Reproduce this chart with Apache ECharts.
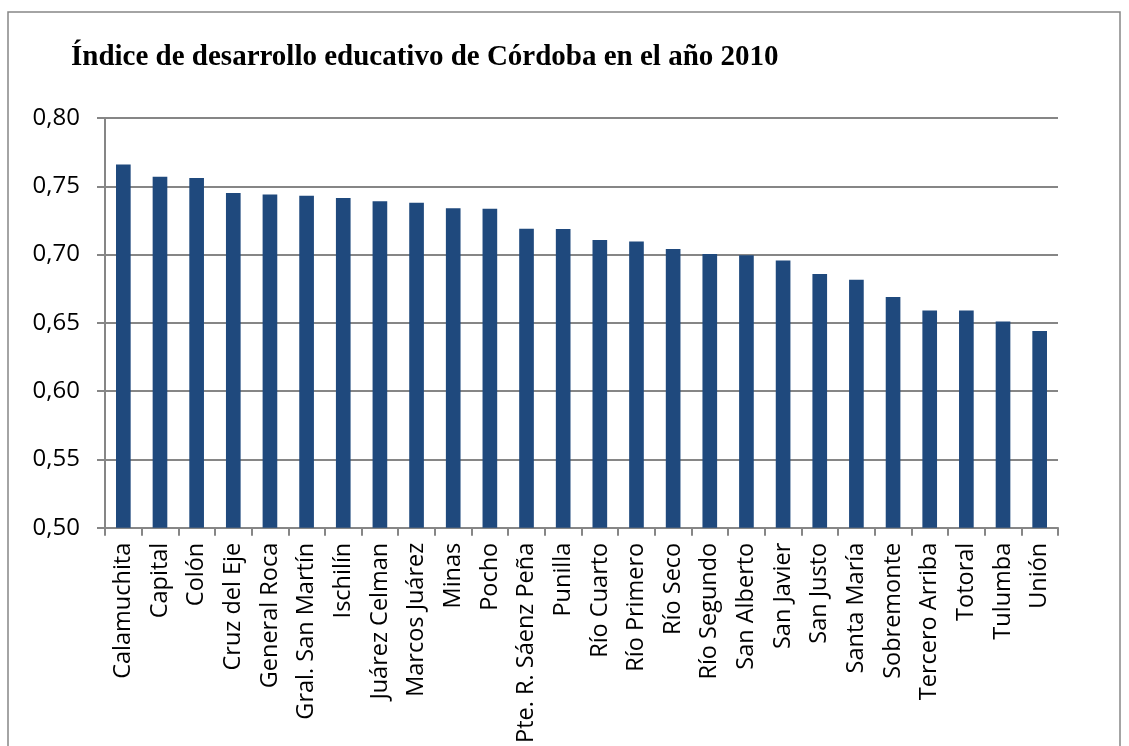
<!DOCTYPE html>
<html>
<head>
<meta charset="utf-8">
<script src="https://cdn.jsdelivr.net/npm/echarts@6/dist/echarts.min.js"></script>
<style>
html,body{margin:0;padding:0;background:#fff;}
#chart{width:1129px;height:746px;}
</style>
</head>
<body>
<div id="chart"></div>
<script>
const titleText = "Índice de desarrollo educativo de Córdoba en el año 2010";
const categories = ["Calamuchita","Capital","Colón","Cruz del Eje","General Roca","Gral. San Martín","Ischilín","Juárez Celman","Marcos Juárez","Minas","Pocho","Pte. R. Sáenz Peña","Punilla","Río Cuarto","Río Primero","Río Seco","Río Segundo","San Alberto","San Javier","San Justo","Santa María","Sobremonte","Tercero Arriba","Totoral","Tulumba","Unión"];
const values = [0.766,0.757,0.756,0.745,0.744,0.743,0.7415,0.739,0.738,0.734,0.7335,0.719,0.7187,0.7107,0.7095,0.704,0.7005,0.6995,0.6956,0.6857,0.6816,0.669,0.659,0.659,0.651,0.644];
const yMin = 0.5, yMax = 0.8, yStep = 0.05;

const chart = echarts.init(document.getElementById('chart'));
chart.setOption({
  animation: false,
  backgroundColor: '#fff',
  title: {
    text: titleText,
    left: 66, top: 38,
    textStyle: {fontFamily: 'Liberation Serif', fontWeight: 'bold', fontSize: 29, color: '#000'}
  },
  graphic: [{
    type: 'rect',
    shape: {x: 8, y: 12, width: 1112, height: 760},
    style: {fill: 'none', stroke: '#868686', lineWidth: 1.5},
    silent: true
  }],
  grid: {left: 105, right: 71, top: 118, bottom: 216},
  xAxis: {
    type: 'category',
    data: categories,
    axisLine: {lineStyle: {color: '#868686', width: 2}},
    axisTick: {show: true, length: 8, alignWithLabel: false, lineStyle: {color: '#868686', width: 2}},
    axisLabel: {rotate: 90, interval: 0, margin: 15, fontFamily: 'Open Sans', fontSize: 23.5, color: '#000'}
  },
  yAxis: {
    type: 'value',
    min: yMin, max: yMax, interval: yStep,
    axisLine: {show: true, lineStyle: {color: '#868686', width: 2}},
    axisTick: {show: true, length: 8, inside: false, lineStyle: {color: '#868686', width: 2}},
    splitLine: {lineStyle: {color: '#868686', width: 2}},
    axisLabel: {margin: 25, fontFamily: 'Open Sans', fontSize: 24, color: '#000',
      formatter: v => v.toFixed(2).replace('.', ',')}
  },
  series: [{
    type: 'bar',
    data: values,
    barCategoryGap: '60%',
    itemStyle: {color: '#1F497D'}
  }]
});
</script>
</body>
</html>
